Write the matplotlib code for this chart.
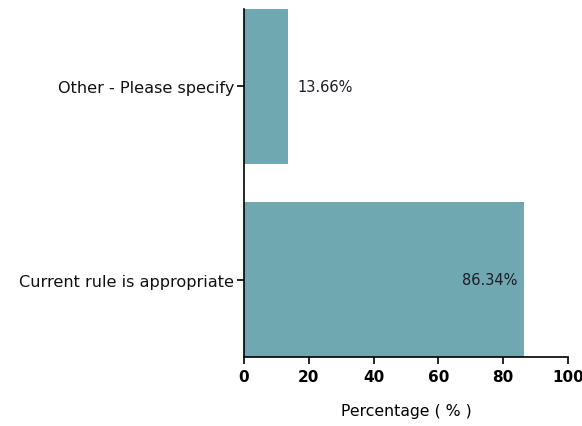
import matplotlib.pyplot as plt

categories = ['Current rule is appropriate', 'Other - Please specify']
values = [86.34, 13.66]
bar_color = '#6fa8b0'

fig = plt.figure(figsize=(5.82, 4.27), dpi=100)
ax = fig.add_axes([0.419, 0.1616, 0.557, 0.815])

y = range(len(categories))
ax.barh(y, values, height=0.8, color=bar_color)

for i, v in enumerate(values):
    label = f'{v:.2f}%'
    if v > 50:
        ax.text(v - 2, i, label, ha='right', va='center', fontsize=10.5, color='#1c1c2a')
    else:
        ax.text(v + 2.8, i, label, ha='left', va='center', fontsize=10.5, color='#1c1c2a')

ax.set_yticks(list(y))
ax.set_yticklabels(categories, fontsize=11.6, color='#111111')
ax.set_ylim(-0.4, 1.4)
ax.set_xlim(0, 100)
ax.set_xticks([0, 20, 40, 60, 80, 100])
ax.tick_params(axis='x', labelsize=11, length=5, width=1.2, pad=4)
ax.tick_params(axis='y', length=5, width=1.2, pad=2)
for lab in ax.get_xticklabels():
    lab.set_fontweight('bold')
ax.spines['top'].set_visible(False)
ax.spines['right'].set_visible(False)
ax.spines['left'].set_linewidth(1.2)
ax.spines['bottom'].set_linewidth(1.2)
ax.set_xlabel('Percentage ( % )', fontsize=11.3, labelpad=13)

fig.savefig('out.png', dpi=100)
